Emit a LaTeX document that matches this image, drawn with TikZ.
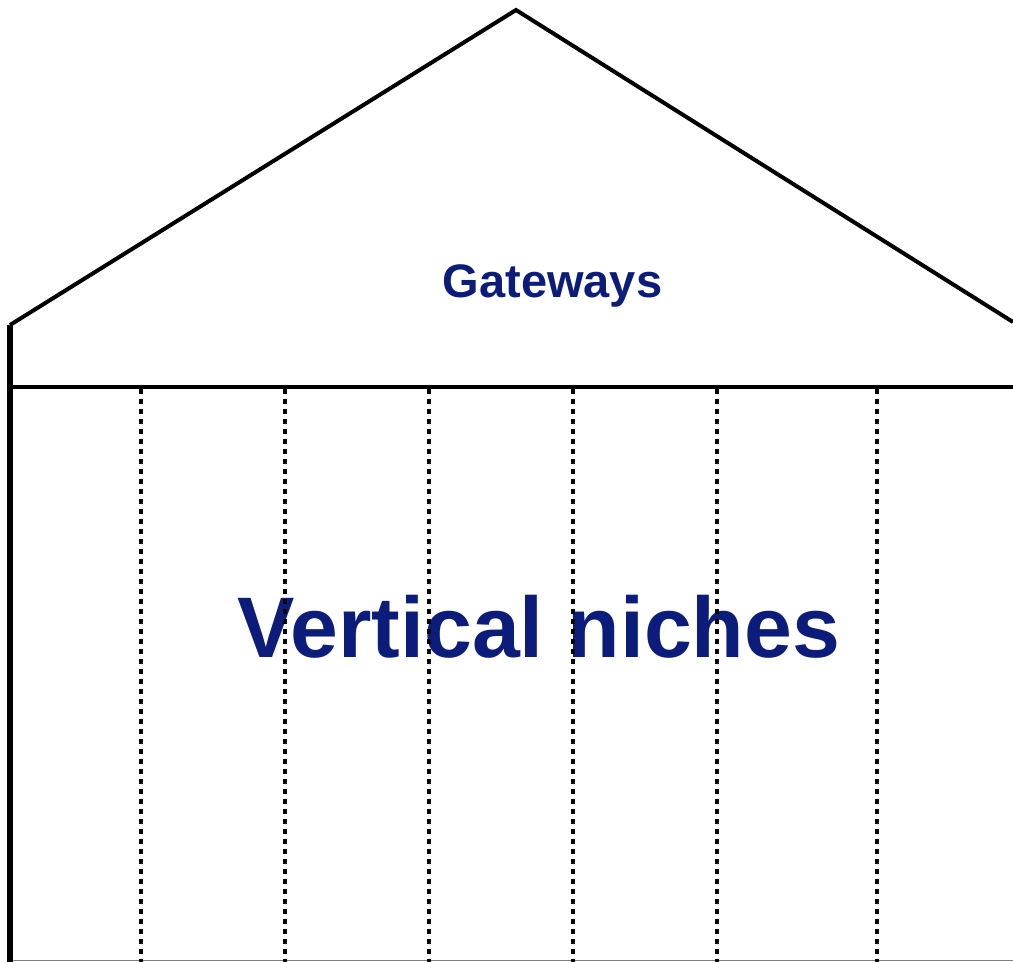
\documentclass[tikz,border=0pt]{standalone}
\usepackage{fontspec}
\setmainfont{Liberation Sans}
\usepackage{tikz}
\usetikzlibrary{
	positioning
}
\definecolor{navy}{RGB}{12,28,122}

\tikzset{
	wall/.style={line width=6pt},
	beam/.style={line width=4.2pt},
	roof/.style={line width=4pt, line join=miter},
	pillar/.style={line width=4.5pt, dash pattern=on 5pt off 5pt},
	label/.style={text=navy, font=\bfseries, inner sep=0pt, anchor=base}
}

\begin{document}
\begin{tikzpicture}[x=1pt,y=-1pt]
	\useasboundingbox (0,0) rectangle (1013,962);

	% corners of the house
	\coordinate (eaveL) at (10,325);
	\coordinate (apex)  at (516,10);
	\coordinate (eaveR) at (1013,322);
	\coordinate (beamL) at (10,387);
	\coordinate (beamR) at (1013,387);
	\coordinate (footL) at (10,962);

	\node[label, font=\bfseries\fontsize{47}{50}\selectfont] (gw) at (552.5,297) {Gateways};
	\node[label, font=\bfseries\fontsize{86}{90}\selectfont] (vn) at (539,657) {Vertical niches};

	\draw[roof] (eaveL) -- (apex) -- (eaveR);
	\draw[beam] (beamL) -- (beamR);
	\draw[wall] (eaveL) -- (footL);
	\draw[gray, line width=1.2pt] (13,960.5) -- (1013,960.5);

	% dotted pillars between the niches, over the text
	\foreach \x in {141,285,429,573,717,877}
		\draw[pillar] (\x,389) -- (\x,962);
\end{tikzpicture}
\end{document}
